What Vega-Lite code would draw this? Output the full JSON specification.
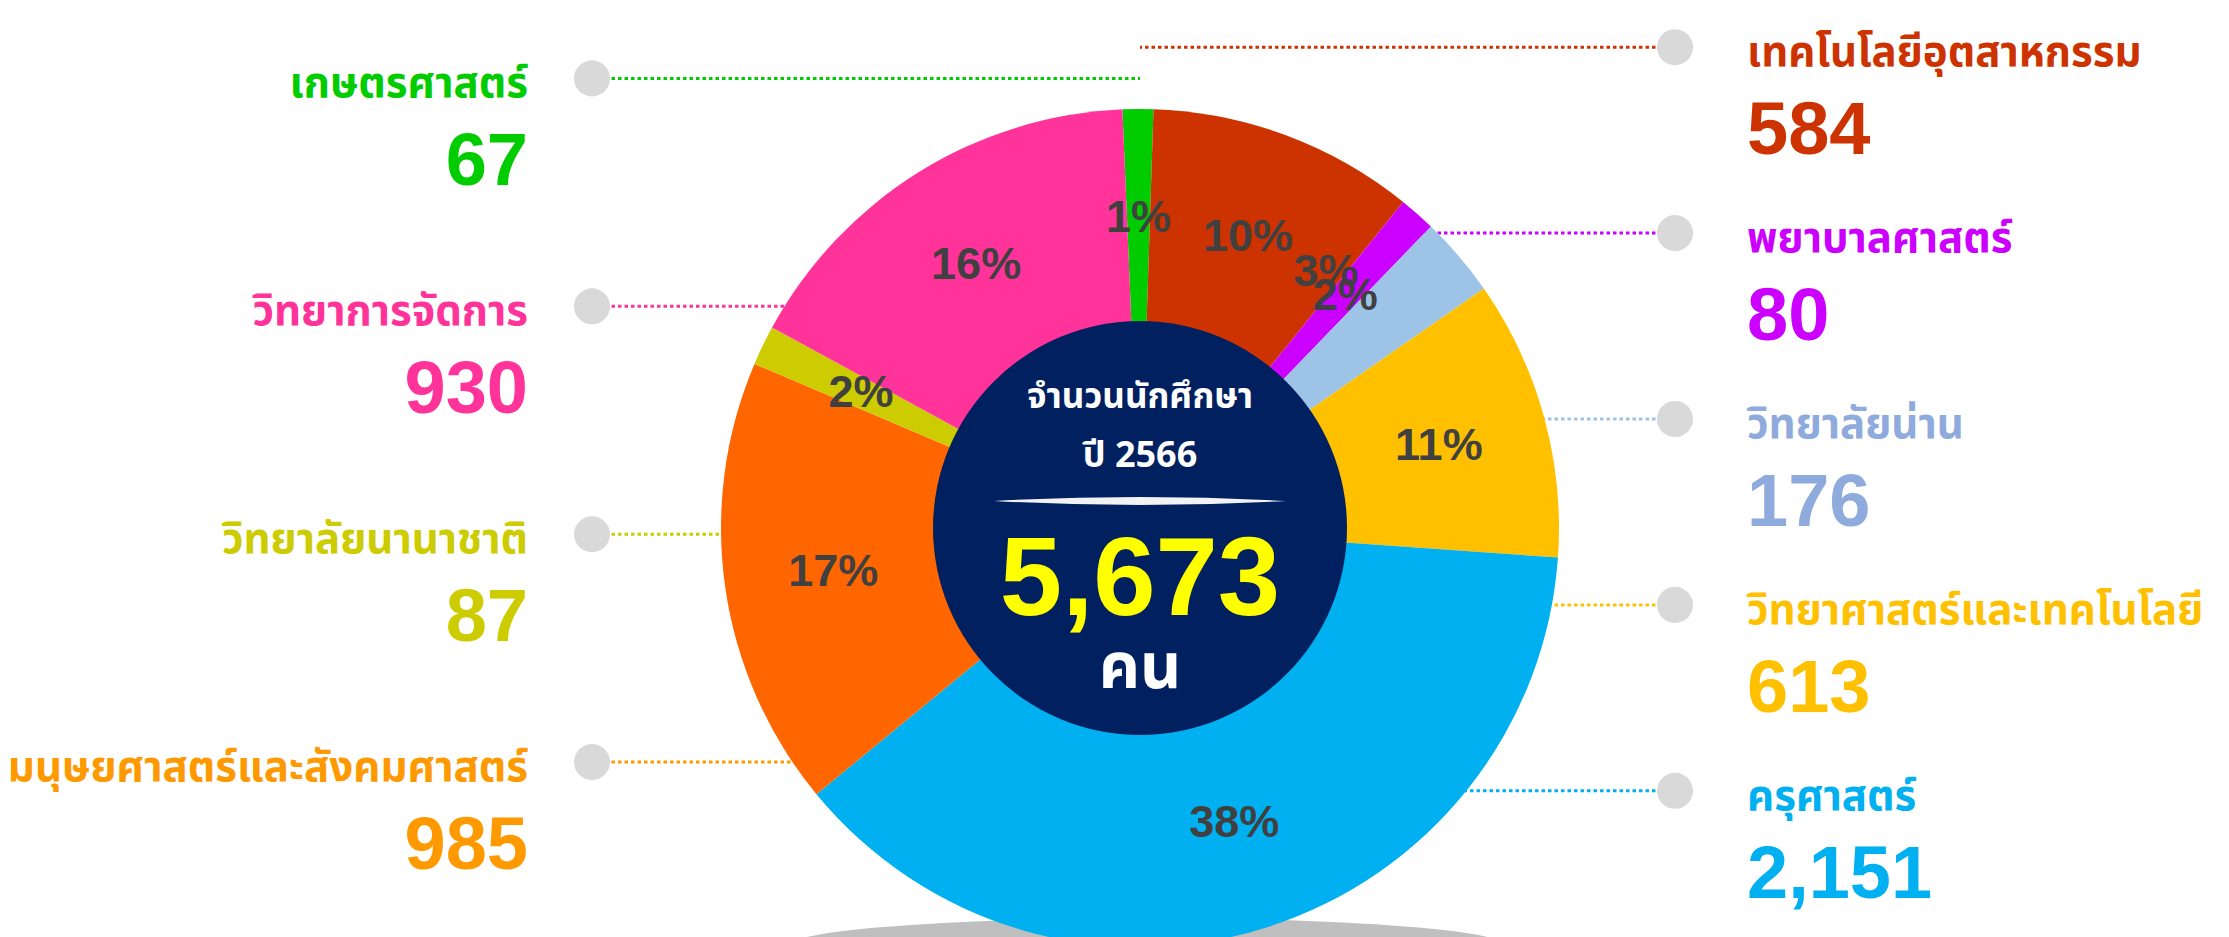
{
  "$schema": "https://vega.github.io/schema/vega-lite/v6.json",
  "autosize": "none",
  "width": 2178,
  "height": 818,
  "padding": {"left": 51, "top": 119, "right": 0, "bottom": 0},
  "background": "#FFFFFF",
  "config": {"view": {"stroke": null}},
  "datasets": {
    "faculty": [
      {"faculty": "เกษตรศาสตร์", "count": 67, "pct": "1%", "side": "left", "rank": 1, "order": 1},
      {"faculty": "เทคโนโลยีอุตสาหกรรม", "count": 584, "pct": "10%", "side": "right", "rank": 1, "order": 2},
      {"faculty": "พยาบาลศาสตร์", "count": 80, "pct": "2%", "side": "right", "rank": 2, "order": 3},
      {"faculty": "วิทยาลัยน่าน", "count": 176, "pct": "3%", "side": "right", "rank": 3, "order": 4},
      {"faculty": "วิทยาศาสตร์และเทคโนโลยี", "count": 613, "pct": "11%", "side": "right", "rank": 4, "order": 5},
      {"faculty": "ครุศาสตร์", "count": 2151, "pct": "38%", "side": "right", "rank": 5, "order": 6},
      {"faculty": "มนุษยศาสตร์และสังคมศาสตร์", "count": 985, "pct": "17%", "side": "left", "rank": 4, "order": 7},
      {"faculty": "วิทยาลัยนานาชาติ", "count": 87, "pct": "2%", "side": "left", "rank": 3, "order": 8},
      {"faculty": "วิทยาการจัดการ", "count": 930, "pct": "16%", "side": "left", "rank": 2, "order": 9}
    ]
  },
  "data": {"name": "faculty"},
  "layer": [
    {
      "data": {"values": [{}]},
      "mark": {"type": "point", "filled": true, "fill": "#BFBFBF", "opacity": 1, "strokeWidth": 0, "size": 702244,
        "shape": "M -0.833 0.995 C -0.833 0.9597 -0.4525 0.931 0.017 0.931 C 0.4865 0.931 0.867 0.9597 0.867 0.995 C 0.867 1.0303 0.4865 1.059 0.017 1.059 C -0.4525 1.059 -0.833 1.0303 -0.833 0.995 Z"},
      "encoding": {}
    },
    {
      "transform": [{"filter": "datum.side === 'left'"}],
      "mark": {"type": "rule", "strokeWidth": 3, "strokeDash": [3.5, 3]},
      "encoding": {
        "x": {"field": "side", "type": "nominal", "scale": {"type": "point", "padding": 0, "domain": ["left", "right"], "range": [541, 1624]}, "axis": null},
        "x2": {"value": {"expr": "width/2"}},
        "y": {"field": "rank", "type": "quantitative", "scale": {"domain": [1, 4], "range": [-40.6, 643.1], "nice": false, "zero": false}, "axis": null},
        "color": {"field": "faculty", "type": "nominal", "legend": null,
          "scale": {"domain": ["เกษตรศาสตร์", "เทคโนโลยีอุตสาหกรรม", "พยาบาลศาสตร์", "วิทยาลัยน่าน", "วิทยาศาสตร์และเทคโนโลยี", "ครุศาสตร์", "มนุษยศาสตร์และสังคมศาสตร์", "วิทยาลัยนานาชาติ", "วิทยาการจัดการ"],
            "range": ["#00CC00", "#CC3300", "#CC00FF", "#9DC3E6", "#FFC000", "#00B0F0", "#FF9900", "#CCCC00", "#FF3399"]}}
      }
    },
    {
      "transform": [{"filter": "datum.side === 'right'"}],
      "mark": {"type": "rule", "strokeWidth": 3, "strokeDash": [3.5, 3]},
      "encoding": {
        "x": {"field": "side", "type": "nominal", "scale": {"type": "point", "padding": 0, "domain": ["left", "right"], "range": [541, 1624]}, "axis": null},
        "x2": {"value": {"expr": "width/2"}},
        "y": {"field": "rank", "type": "quantitative", "scale": {"domain": [1, 5], "range": [-71.8, 671.8], "nice": false, "zero": false}, "axis": null},
        "color": {"field": "faculty", "type": "nominal", "legend": null,
          "scale": {"domain": ["เกษตรศาสตร์", "เทคโนโลยีอุตสาหกรรม", "พยาบาลศาสตร์", "วิทยาลัยน่าน", "วิทยาศาสตร์และเทคโนโลยี", "ครุศาสตร์", "มนุษยศาสตร์และสังคมศาสตร์", "วิทยาลัยนานาชาติ", "วิทยาการจัดการ"],
            "range": ["#00CC00", "#CC3300", "#CC00FF", "#9DC3E6", "#FFC000", "#00B0F0", "#FF9900", "#CCCC00", "#FF3399"]}}
      }
    },
    {
      "mark": {"type": "arc", "outerRadius": 419, "strokeWidth": 0},
      "encoding": {
        "theta": {"field": "count", "type": "quantitative", "stack": true, "scale": {"range": [-0.042, 6.2412], "nice": false, "zero": true}},
        "order": {"field": "order", "type": "quantitative"},
        "color": {"field": "faculty", "type": "nominal", "legend": null,
          "scale": {"domain": ["เกษตรศาสตร์", "เทคโนโลยีอุตสาหกรรม", "พยาบาลศาสตร์", "วิทยาลัยน่าน", "วิทยาศาสตร์และเทคโนโลยี", "ครุศาสตร์", "มนุษยศาสตร์และสังคมศาสตร์", "วิทยาลัยนานาชาติ", "วิทยาการจัดการ"],
            "range": ["#00CC00", "#CC3300", "#CC00FF", "#9DC3E6", "#FFC000", "#00B0F0", "#FF6600", "#CCCC00", "#FF3399"]}}
      }
    },
    {
      "mark": {"type": "text", "radius": 310, "font": "Liberation Sans, Arial, sans-serif", "fontSize": 45, "fontWeight": "bold", "color": "#404040"},
      "encoding": {
        "theta": {"field": "count", "type": "quantitative", "stack": true},
        "order": {"field": "order", "type": "quantitative"},
        "text": {"condition": {"test": "datum.faculty !== 'วิทยาลัยน่าน'", "field": "pct"}, "value": ""}
      }
    },
    {
      "mark": {"type": "text", "radius": 310, "dx": -50, "dy": -55, "font": "Liberation Sans, Arial, sans-serif", "fontSize": 45, "fontWeight": "bold", "color": "#404040"},
      "encoding": {
        "theta": {"field": "count", "type": "quantitative", "stack": true},
        "order": {"field": "order", "type": "quantitative"},
        "text": {"condition": {"test": "datum.faculty === 'วิทยาลัยน่าน'", "field": "pct"}, "value": ""}
      }
    },
    {
      "data": {"values": [{}]},
      "mark": {"type": "arc", "radius": 207, "theta": 0, "theta2": 6.2832, "fill": "#002060"},
      "encoding": {}
    },
    {
      "data": {"values": [{}]},
      "mark": {"type": "point", "filled": true, "fill": "#F2F2F2", "opacity": 1, "strokeWidth": 0, "size": 85264,
        "shape": "M -1 -0.185 Q 0 -0.24 1 -0.185 Q 0 -0.13 -1 -0.185 Z"},
      "encoding": {}
    },
    {
      "data": {"values": [{"line": "จำนวนนักศึกษา"}]},
      "mark": {"type": "text", "baseline": "alphabetic", "dy": -120, "font": "Noto Sans Thai, sans-serif", "fontSize": 35, "fontWeight": "bold", "color": "#FFFFFF"},
      "encoding": {"text": {"field": "line"}}
    },
    {
      "data": {"values": [{"line": "ปี 2566"}]},
      "mark": {"type": "text", "baseline": "alphabetic", "dy": -61, "font": "Noto Sans Thai, sans-serif", "fontSize": 36, "fontWeight": "bold", "color": "#FFFFFF"},
      "encoding": {"text": {"field": "line"}}
    },
    {
      "data": {"values": [{"line": "5,673"}]},
      "mark": {"type": "text", "baseline": "alphabetic", "dy": 87, "font": "Liberation Sans, Arial, sans-serif", "fontSize": 112, "fontWeight": "bold", "color": "#FFFF00"},
      "encoding": {"text": {"field": "line"}}
    },
    {
      "data": {"values": [{"line": "คน"}]},
      "mark": {"type": "text", "baseline": "alphabetic", "dy": 160, "font": "Noto Sans Thai, sans-serif", "fontSize": 64, "fontWeight": "bold", "color": "#FFFFFF"},
      "encoding": {"text": {"field": "line"}}
    },
    {
      "transform": [{"filter": "datum.side === 'left'"}],
      "encoding": {
        "x": {"field": "side", "type": "nominal", "scale": {"type": "point", "padding": 0, "domain": ["left", "right"], "range": [541, 1624]}, "axis": null},
        "y": {"field": "rank", "type": "quantitative", "scale": {"domain": [1, 4], "range": [-40.6, 643.1], "nice": false, "zero": false}, "axis": null}
      },
      "layer": [
        {"mark": {"type": "point", "filled": true, "size": 1300, "color": "#D9D9D9", "opacity": 1}},
        {
          "mark": {"type": "text", "align": "right", "baseline": "alphabetic", "dx": -64, "dy": 19, "font": "Noto Sans Thai, sans-serif", "fontSize": 42, "fontWeight": "bold"},
          "encoding": {
            "text": {"field": "faculty"},
            "color": {"field": "faculty", "type": "nominal", "legend": null,
              "scale": {"domain": ["เกษตรศาสตร์", "เทคโนโลยีอุตสาหกรรม", "พยาบาลศาสตร์", "วิทยาลัยน่าน", "วิทยาศาสตร์และเทคโนโลยี", "ครุศาสตร์", "มนุษยศาสตร์และสังคมศาสตร์", "วิทยาลัยนานาชาติ", "วิทยาการจัดการ"],
                "range": ["#00CC00", "#CC3300", "#CC00FF", "#8FAADC", "#FFC000", "#00B0F0", "#FF9900", "#CCCC00", "#FF3399"]}}
          }
        },
        {
          "mark": {"type": "text", "align": "right", "baseline": "alphabetic", "dx": -64, "dy": 107, "font": "Liberation Sans, Arial, sans-serif", "fontSize": 74, "fontWeight": "bold"},
          "encoding": {
            "text": {"field": "count", "type": "quantitative", "format": ",d"},
            "color": {"field": "faculty", "type": "nominal", "legend": null}
          }
        }
      ]
    },
    {
      "transform": [{"filter": "datum.side === 'right'"}],
      "encoding": {
        "x": {"field": "side", "type": "nominal", "scale": {"type": "point", "padding": 0, "domain": ["left", "right"], "range": [541, 1624]}, "axis": null},
        "y": {"field": "rank", "type": "quantitative", "scale": {"domain": [1, 5], "range": [-71.8, 671.8], "nice": false, "zero": false}, "axis": null}
      },
      "layer": [
        {"mark": {"type": "point", "filled": true, "size": 1300, "color": "#D9D9D9", "opacity": 1}},
        {
          "mark": {"type": "text", "align": "left", "baseline": "alphabetic", "dx": 72, "dy": 19, "font": "Noto Sans Thai, sans-serif", "fontSize": 42, "fontWeight": "bold"},
          "encoding": {
            "text": {"field": "faculty"},
            "color": {"field": "faculty", "type": "nominal", "legend": null,
              "scale": {"domain": ["เกษตรศาสตร์", "เทคโนโลยีอุตสาหกรรม", "พยาบาลศาสตร์", "วิทยาลัยน่าน", "วิทยาศาสตร์และเทคโนโลยี", "ครุศาสตร์", "มนุษยศาสตร์และสังคมศาสตร์", "วิทยาลัยนานาชาติ", "วิทยาการจัดการ"],
                "range": ["#00CC00", "#CC3300", "#CC00FF", "#8FAADC", "#FFC000", "#00B0F0", "#FF9900", "#CCCC00", "#FF3399"]}}
          }
        },
        {
          "mark": {"type": "text", "align": "left", "baseline": "alphabetic", "dx": 72, "dy": 107, "font": "Liberation Sans, Arial, sans-serif", "fontSize": 74, "fontWeight": "bold"},
          "encoding": {
            "text": {"field": "count", "type": "quantitative", "format": ",d"},
            "color": {"field": "faculty", "type": "nominal", "legend": null}
          }
        }
      ]
    }
  ],
  "resolve": {"scale": {"x": "independent", "y": "independent", "color": "independent"}}
}
